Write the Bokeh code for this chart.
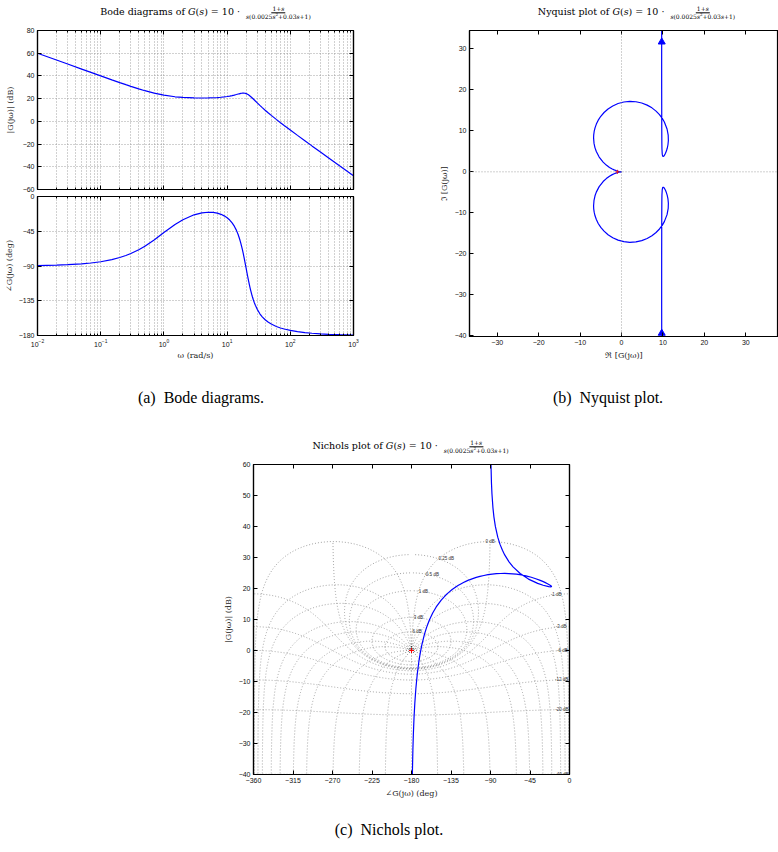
import numpy as np
from bokeh.plotting import figure
from bokeh.layouts import column, row
from bokeh.models import (Div, Spacer, Range1d, LinearAxis, LogAxis, FixedTicker,
                          CustomJSTickFormatter, Span)
from bokeh.core.properties import value
from bokeh.embed import file_html
from bokeh.resources import INLINE

# Frequency response of G(s) = 10 (1+s) / (s (0.0025 s^2 + 0.03 s + 1))
omega = [0.01, 0.02, 0.03, 0.05, 0.07, 0.1, 0.15, 0.2, 0.25, 0.3, 0.4, 0.5, 0.7, 1, 1.5,
         2, 3, 4, 5, 6, 7, 8, 9, 10, 11, 12, 13, 14, 15, 15.5, 16, 16.5, 17, 17.5, 18,
         18.5, 19, 19.5, 20, 20.5, 21, 21.5, 22, 22.5, 23, 23.5, 24, 24.5, 25, 26, 27,
         28, 30, 33, 36, 40, 45, 50, 60, 70, 80, 100, 130, 170, 220, 300, 400, 600, 1000]
mag_db = [60.00, 53.98, 50.46, 46.03, 43.12, 40.04, 36.57, 34.15, 32.31, 30.83, 28.60,
          26.99, 24.84, 23.03, 21.64, 21.04, 20.62, 20.55, 20.62, 20.77, 20.98, 21.24,
          21.55, 21.90, 22.29, 22.71, 23.16, 23.62, 24.06, 24.27, 24.45, 24.61, 24.74,
          24.82, 24.86, 24.84, 24.77, 24.64, 24.45, 24.20, 23.91, 23.57, 23.20, 22.80,
          22.37, 21.93, 21.48, 21.03, 20.57, 19.65, 18.76, 17.89, 16.25, 14.04, 12.09,
          9.82, 7.37, 5.26, 1.73, -1.17, -3.63, -7.67, -12.35, -17.08, -21.60, -27.01,
          -32.02, -39.08, -47.96]
phase_deg = [-89.44, -88.89, -88.33, -87.22, -86.12, -84.46, -81.73, -79.03, -76.39,
             -73.82, -68.89, -64.30, -56.21, -46.72, -36.28, -30.03, -23.70, -21.16,
             -20.40, -20.65, -21.59, -23.07, -25.04, -27.51, -30.52, -34.12, -38.43,
             -43.56, -49.62, -53.03, -56.71, -60.64, -64.82, -69.21, -73.80, -78.52,
             -83.30, -88.11, -92.86, -97.50, -101.97, -106.23, -110.25, -114.03, -117.55,
             -120.80, -123.82, -126.59, -129.16, -133.71, -137.56, -140.86, -146.16,
             -151.85, -155.85, -159.63, -162.89, -165.20, -168.28, -170.25, -171.63,
             -173.45, -175.04, -176.24, -177.11, -177.89, -178.42, -178.95, -179.37]

# Tick positions
bode_decades = [1e-2, 1e-1, 1e0, 1e1, 1e2, 1e3]
bode_minor = [k * d for d in bode_decades[:-1] for k in range(2, 10)]
mag_ticks = [-60, -40, -20, 0, 20, 40, 60, 80]
phase_ticks = [-180, -135, -90, -45, 0]
nyq_x_ticks = [-30, -20, -10, 0, 10, 20, 30]
nyq_y_ticks = [-40, -30, -20, -10, 0, 10, 20, 30]
nic_x_ticks = [-360, -315, -270, -225, -180, -135, -90, -45, 0]
nic_y_ticks = [-40, -30, -20, -10, 0, 10, 20, 30, 40, 50, 60]

# Closed-loop levels of the Nichols chart grid
nichols_gains_db = [6, 3, 1, 0.5, 0.25, 0, -1, -3, -6, -12, -20, -40]
nichols_phases_deg = [-1, -5, -10, -20, -30, -45, -60, -90, -120, -150, -180]

BLUE = "#0000ff"
GRID = "#8a8a8a"
TICK_FONT = "Liberation Sans"
MATH_FONT = "DejaVu Serif"


def blank_formatter():
    return CustomJSTickFormatter(code="return ''")


def style_axis(ax, blank=False):
    ax.major_tick_in = 4
    ax.major_tick_out = 0
    ax.minor_tick_in = 2
    ax.minor_tick_out = 0
    ax.axis_line_color = "black"
    ax.axis_line_width = 1.2
    ax.major_tick_line_color = "black"
    ax.minor_tick_line_color = "black"
    ax.major_label_text_font = TICK_FONT
    ax.major_label_text_font_size = "7px"
    ax.major_label_text_color = "#111111"
    ax.major_label_standoff = 0 if blank else 3
    ax.axis_label_text_font = MATH_FONT
    ax.axis_label_text_font_size = "8px"
    ax.axis_label_text_font_style = "normal"
    ax.axis_label_text_color = "#222222"
    ax.axis_label_standoff = 3


def frame_style(p):
    p.outline_line_color = "black"
    p.outline_line_width = 1.2
    p.background_fill_color = "white"
    p.border_fill_color = "white"


def dotted_grid(p, minor_x=False):
    for g in (p.xgrid, p.ygrid):
        g.grid_line_color = GRID
        g.grid_line_dash = "1 2"
        g.grid_line_width = 0.8
    if minor_x:
        p.xgrid.minor_grid_line_color = GRID
        p.xgrid.minor_grid_line_dash = "1 2"
        p.xgrid.minor_grid_line_width = 0.8


def add_frame_axes(p, x_ticker, y_ticker, log_x=False, right=True):
    top = (LogAxis if log_x else LinearAxis)(ticker=x_ticker, formatter=blank_formatter())
    p.add_layout(top, "above")
    style_axis(top, blank=True)
    if right:
        rgt = LinearAxis(ticker=y_ticker, formatter=blank_formatter())
        p.add_layout(rgt, "right")
        style_axis(rgt, blank=True)


# ---------------- Bode magnitude ----------------
p_mag = figure(width=389, height=171, x_axis_type="log",
               x_range=Range1d(1e-2, 1e3), y_range=Range1d(-60, 80),
               output_backend="svg", toolbar_location=None, margin=0,
               min_border_left=37, min_border_right=36, min_border_top=8, min_border_bottom=4)
frame_style(p_mag)
bx = p_mag.below[0]
bx.ticker = FixedTicker(ticks=bode_decades, minor_ticks=bode_minor)
bx.formatter = blank_formatter()
style_axis(bx, blank=True)
ly = p_mag.left[0]
ly.ticker = FixedTicker(ticks=mag_ticks)
ly.axis_label = "|G(jω)| (dB)"
style_axis(ly)
ly.axis_label_standoff = 5
add_frame_axes(p_mag, FixedTicker(ticks=bode_decades, minor_ticks=bode_minor),
               FixedTicker(ticks=mag_ticks), log_x=True)
dotted_grid(p_mag, minor_x=True)
p_mag.line(omega, mag_db, color=BLUE, line_width=1.2)

# ---------------- Bode phase ----------------
p_ph = figure(width=389, height=177, x_axis_type="log",
              x_range=p_mag.x_range, y_range=Range1d(-180, 0),
              output_backend="svg", toolbar_location=None, margin=0,
              min_border_left=37, min_border_right=36, min_border_top=3, min_border_bottom=35)
frame_style(p_ph)
bx = p_ph.below[0]
bx.ticker = FixedTicker(ticks=bode_decades, minor_ticks=bode_minor)
bx.axis_label = "ω (rad/s)"
style_axis(bx)
bx.axis_label_standoff = 1
ly = p_ph.left[0]
ly.ticker = FixedTicker(ticks=phase_ticks)
ly.axis_label = "∠G(jω) (deg)"
style_axis(ly)
ly.axis_label_standoff = 2
add_frame_axes(p_ph, FixedTicker(ticks=bode_decades, minor_ticks=bode_minor),
               FixedTicker(ticks=phase_ticks), log_x=True)
dotted_grid(p_ph, minor_x=True)
p_ph.line(omega, phase_deg, color=BLUE, line_width=1.2)

# ---------------- Nyquist ----------------
gain = 10 ** (np.array(mag_db) / 20.0)
ang = np.radians(phase_deg)
re = gain * np.cos(ang)
im = gain * np.sin(ang)

p_nyq = figure(width=389, height=343, x_range=Range1d(-36.7, 37.9), y_range=Range1d(-40.2, 34.5),
               output_backend="svg", toolbar_location=None, margin=0,
               min_border_left=80, min_border_right=0, min_border_top=8, min_border_bottom=29)
frame_style(p_nyq)
p_nyq.grid.visible = False
bx = p_nyq.below[0]
bx.ticker = FixedTicker(ticks=nyq_x_ticks)
bx.axis_label = "ℜ [G(jω)]"
style_axis(bx)
ly = p_nyq.left[0]
ly.ticker = FixedTicker(ticks=nyq_y_ticks)
ly.axis_label = "ℑ [G(jω)]"
style_axis(ly)
add_frame_axes(p_nyq, FixedTicker(ticks=nyq_x_ticks), FixedTicker(ticks=nyq_y_ticks), right=False)
for dim in ("width", "height"):
    p_nyq.add_layout(Span(location=0, dimension=dim, line_color=GRID,
                          line_dash="1 2", line_width=0.8))
p_nyq.line(re, im, color=BLUE, line_width=1.2)      # positive frequencies
p_nyq.line(re, -im, color=BLUE, line_width=1.2)     # negative frequencies
arrow_x = float(re[omega.index(0.25)])
p_nyq.scatter([arrow_x, arrow_x], [-39.4, 31.7], marker="triangle", size=7,
              color=BLUE, line_color=BLUE)
p_nyq.scatter([-1], [0], marker="cross", size=4, color="red")

# ---------------- Nichols ----------------
p_nic = figure(width=379, height=349, x_range=Range1d(-360, 0), y_range=Range1d(-40, 60),
               output_backend="svg", toolbar_location=None, margin=0,
               min_border_left=53, min_border_right=10, min_border_top=8, min_border_bottom=31)
frame_style(p_nic)
p_nic.grid.visible = False
bx = p_nic.below[0]
bx.ticker = FixedTicker(ticks=nic_x_ticks)
bx.axis_label = "∠G(jω) (deg)"
style_axis(bx)
ly = p_nic.left[0]
ly.ticker = FixedTicker(ticks=nic_y_ticks)
ly.axis_label = "|G(jω)| (dB)"
style_axis(ly)
add_frame_axes(p_nic, FixedTicker(ticks=nic_x_ticks), FixedTicker(ticks=nic_y_ticks))


def open_loop(T):
    """Open-loop point L = T / (1 - T) as (phase in [-360, 0], gain in dB)."""
    with np.errstate(divide="ignore", invalid="ignore"):
        L = T / (1.0 - T)
        ph = np.degrees(np.angle(L))
        ph = np.where(ph > 0, ph - 360.0, ph)
        return ph, 20 * np.log10(np.abs(L))


top_db = 20 * np.log10(1.0 / np.sin(np.radians(1.0)))
grid_xs, grid_ys = [], []

# constant closed-loop phase contours
mags = np.logspace(-3, 4, 5000)
for psi in nichols_phases_deg:
    ph, g = open_loop(mags * np.exp(1j * np.radians(psi)))
    grid_xs.append(ph)
    grid_ys.append(g)
    if psi != -180:
        grid_xs.append(-360.0 - ph)
        grid_ys.append(g)

# constant closed-loop gain contours
sweep = np.radians(np.linspace(-359.9, -0.1, 3000))
lbl_x, lbl_y, lbl_t, lbl_align = [], [], [], []
for gdb in nichols_gains_db:
    m = 10 ** (gdb / 20.0)
    ph, g = open_loop(m * np.exp(1j * sweep))
    g = np.where(g > top_db + 0.05, np.nan, g)
    grid_xs.append(ph)
    grid_ys.append(g)
    lp, lg = open_loop(np.array([m * np.exp(1j * np.radians(-1.0))]))
    lbl_x.append(float(lp[0]))
    lbl_y.append(float(min(lg[0], top_db)))
    lbl_t.append(f"{gdb:g} dB")
    lbl_align.append("left" if gdb > 0 else ("center" if gdb == 0 else "right"))

p_nic.multi_line(grid_xs, grid_ys, line_color=GRID, line_dash="1 2", line_width=0.8)
for a in ("left", "center", "right"):
    idx = [i for i, v in enumerate(lbl_align) if v == a]
    p_nic.text([lbl_x[i] for i in idx], [lbl_y[i] for i in idx], text=[lbl_t[i] for i in idx],
               text_font=value(TICK_FONT), text_font_size="4.5px", text_color="#333333",
               text_align=a, text_baseline="middle")
p_nic.line(phase_deg, mag_db, color=BLUE, line_width=1.2)
p_nic.scatter([-180], [0], marker="cross", size=5, color="red", line_width=1)

# ---------------- titles and captions ----------------
FRACTION = ('<span style="display:inline-flex;flex-direction:column;align-items:center;'
            'vertical-align:4px;font-size:6px;line-height:1.2;margin-left:2px">'
            '<span style="border-bottom:1px solid #000;padding:0 1px">1+<i>s</i></span>'
            '<span style="padding:0 1px"><i>s</i>(0.0025<i>s</i><sup style="font-size:4px">2</sup>'
            '+0.03<i>s</i>+1)</span></span>')


def placed_div(items, width, height):
    inner = ""
    for text, cx, cy, family, size in items:
        inner += (f'<div style="position:absolute;left:{cx}px;top:{cy}px;'
                  f'transform:translate(-50%,-50%);white-space:nowrap;'
                  f"font-family:'{family}';font-size:{size}px;color:#000\">{text}</div>")
    html = f'<div style="position:relative;width:{width}px;height:{height}px">{inner}</div>'
    return Div(text=html, width=width, height=height, margin=0)


def title_text(name):
    return f'{name} of <i>G</i>(<i>s</i>) = 10 &middot; {FRACTION}'


bode_title = placed_div([(title_text("Bode diagrams"), 206, 13, MATH_FONT, 9.5)], 389, 22)
nyq_title = placed_div([(title_text("Nyquist plot"), 248, 13, MATH_FONT, 9.5)], 389, 22)
captions_ab = placed_div([("(a)&ensp;Bode diagrams.", 201, 28, "Liberation Serif", 16),
                          ("(b)&ensp;Nyquist plot.", 608, 28, "Liberation Serif", 16)], 778, 55)
nic_title = placed_div([(title_text("Nichols plot"), 411, 22, MATH_FONT, 9.5)], 778, 31)
caption_c = placed_div([("(c)&ensp;Nichols plot.", 389, 25, "Liberation Serif", 16)], 778, 40)

page = column(
    row(column(bode_title, p_mag, p_ph, margin=0),
        column(nyq_title, p_nyq, margin=0), margin=0),
    captions_ab,
    nic_title,
    row(Spacer(width=200, height=349, margin=0), p_nic, margin=0),
    caption_c,
    margin=0,
)

open("out.html", "w").write(file_html(page, INLINE))
